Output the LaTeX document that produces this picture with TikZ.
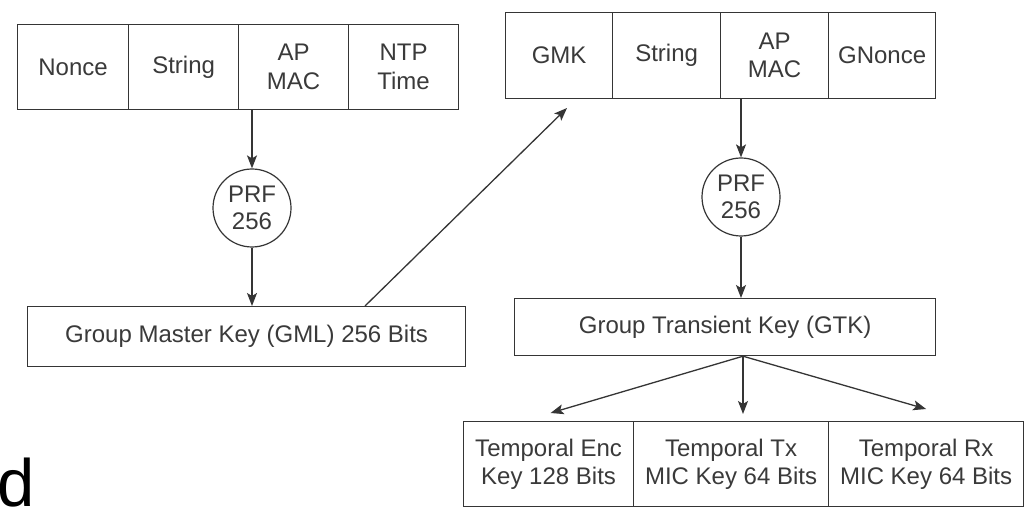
\documentclass[tikz,border=0pt]{standalone}
\usepackage{fontspec}
\setmainfont{Liberation Sans}
\usetikzlibrary{arrows.meta,calc}
\definecolor{ink}{HTML}{3A3A3A}
\definecolor{edge}{HTML}{353535}
\begin{document}
\begin{tikzpicture}[x=1pt,y=-1pt,
  cell/.style={draw=edge, line width=1.2pt, text=ink, inner sep=0pt, align=center,
    anchor=north west, font=\fontsize{24}{28.5}\selectfont},
  prf/.style={draw=edge, line width=1.2pt, circle, minimum size=78pt, inner sep=0pt,
    text=ink, align=center, font=\fontsize{24}{26.5}\selectfont},
  conn/.style={draw=edge, line width=1.3pt, -{Stealth[length=13pt,width=10pt,inset=3pt]}}
]
\useasboundingbox (0,0) rectangle (1027,510);
\fill[white] (0,0) rectangle (1027,510);

% top-left row
\node[cell, minimum width=111pt, minimum height=85pt] (n1) at (17,24) {Nonce};
\node[cell, minimum width=110pt, minimum height=85pt] (n2) at (128,24) {String};
\node[cell, minimum width=110pt, minimum height=85pt] (n3) at (238,24) {AP\\MAC};
\node[cell, minimum width=110pt, minimum height=85pt] (n4) at (348,24) {NTP\\Time};

% top-right row
\node[cell, minimum width=107pt, minimum height=86pt] (g1) at (505,12) {GMK};
\node[cell, minimum width=108pt, minimum height=86pt] (g2) at (612,12) {String};
\node[cell, minimum width=108pt, minimum height=86pt] (g3) at (720,12) {AP\\MAC};
\node[cell, minimum width=107pt, minimum height=86pt] (g4) at (828,12) {GNonce};

% PRF circles
\node[prf] (prf1) at (252,208) {PRF\\256};
\node[prf] (prf2) at (741,197) {PRF\\256};

% key boxes
\node[cell, minimum width=438pt, minimum height=60pt] (gml) at (27,306) {Group Master Key (GML) 256 Bits};
\node[cell, minimum width=421pt, minimum height=57pt] (gtk) at (514,298) {Group Transient Key (GTK)};

% bottom row
\node[cell, minimum width=170pt, minimum height=85pt] (t1) at (463,421) {Temporal Enc\\Key 128 Bits};
\node[cell, minimum width=195pt, minimum height=85pt] (t2) at (633,421) {Temporal Tx\\MIC Key 64 Bits};
\node[cell, minimum width=195pt, minimum height=85pt] (t3) at (828,421) {Temporal Rx\\MIC Key 64 Bits};

% partial letter at lower left
\node[anchor=base west, inner sep=0pt, text=black, font=\fontsize{67}{67}\selectfont] (dl) at (-2.3,506) {d};

% connectors
\coordinate (gstart) at ([xshift=338pt]gml.north west);
\coordinate (gtarget) at (567,108);
\coordinate (split) at ([xshift=229pt]gtk.south west);

\draw[conn] (prf1.north |- n3.south) -- (prf1.north);
\draw[conn] (prf1.south) -- (prf1.south |- gml.north);
\draw[conn] (gstart) -- (gtarget);
\draw[conn] (prf2.north |- g3.south) -- (prf2.north);
\draw[conn] (prf2.south) -- (prf2.south |- gtk.north);
\draw[conn] (split) -- ([xshift=2pt,yshift=8pt]t1.north);
\draw[conn] (split) -- ([yshift=7pt]t2.north -| split);
\draw[conn] (split) -- ([yshift=12pt]t3.north);
\end{tikzpicture}
\end{document}
